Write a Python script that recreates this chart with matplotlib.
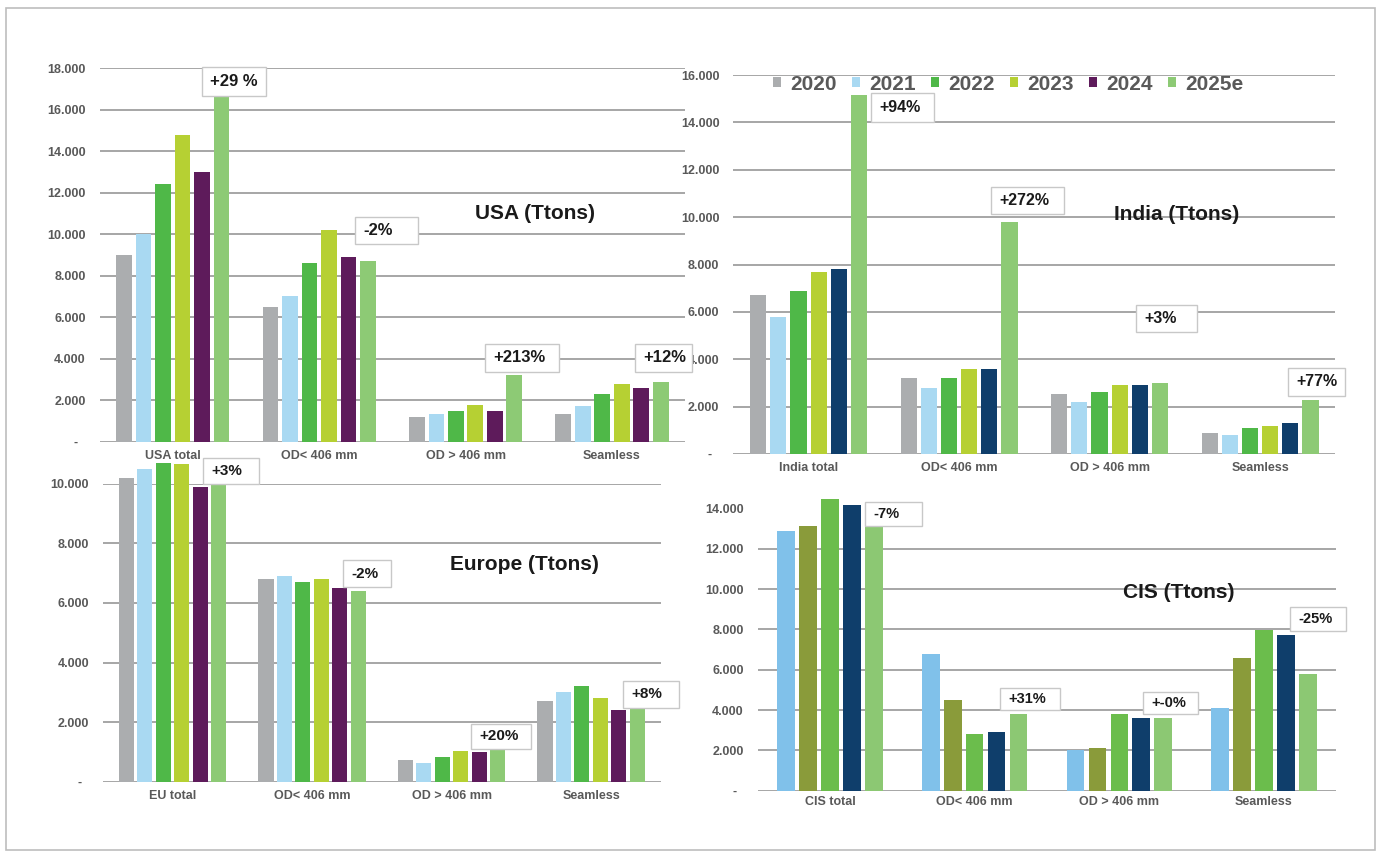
import matplotlib
matplotlib.use("Agg")
import matplotlib.pyplot as plt
from matplotlib.patches import Patch, Rectangle
import numpy as np

plt.rcParams['font.family'] = ['Liberation Sans', 'DejaVu Sans']
plt.rcParams['font.weight'] = 'bold'

W, H = 1381, 857

# ── data (Ttons) ──
years = ['2020', '2021', '2022', '2023', '2024', '2025e']
year_colors = ['#abadaf', '#a9d9f2', '#4fb848', '#b6d033', '#5e1b5b', '#8dca75']
india_colors = ['#abadaf', '#a9d9f2', '#4fb848', '#b6d033', '#0f3e6b', '#8dca75']
cis_colors = ['#80c1ea', '#8a9b3a', '#6bbd4c', '#0f3e6b', '#8cc873']

usa_categories = ['USA total', 'OD< 406 mm', 'OD > 406 mm', 'Seamless']
india_categories = ['India total', 'OD< 406 mm', 'OD > 406 mm', 'Seamless']
europe_categories = ['EU total', 'OD< 406 mm', 'OD > 406 mm', 'Seamless']
cis_categories = ['CIS total', 'OD< 406 mm', 'OD > 406 mm', 'Seamless']

# one row per year / series, one value per category
usa_values = [
    [9000, 6500, 1200, 1350],
    [10000, 7000, 1350, 1700],
    [12400, 8600, 1500, 2300],
    [14800, 10200, 1780, 2800],
    [13000, 8900, 1500, 2600],
    [16800, 8700, 3200, 2900],
]
india_values = [
    [6700, 3200, 2550, 900],
    [5800, 2800, 2200, 800],
    [6900, 3200, 2600, 1100],
    [7700, 3600, 2900, 1200],
    [7800, 3600, 2900, 1300],
    [15150, 9800, 3000, 2300],
]
europe_values = [
    [10200, 6800, 730, 2700],
    [10500, 6900, 620, 3000],
    [10700, 6700, 820, 3200],
    [10650, 6800, 1030, 2800],
    [9900, 6500, 1000, 2400],
    [10200, 6400, 1200, 2600],
]
cis_values = [
    [12900, 6800, 2000, 4100],
    [13150, 4500, 2100, 6600],
    [14450, 2800, 3800, 7950],
    [14150, 2900, 3600, 7700],
    [13150, 3800, 3600, 5800],
]

usa_changes = ['+29 %', '-2%', '+213%', '+12%']
india_changes = ['+94%', '+272%', '+3%', '+77%']
europe_changes = ['+3%', '-2%', '+20%', '+8%']
cis_changes = ['-7%', '+31%', '+-0%', '-25%']

# ── layout (pixels in the 1381x857 canvas) ──
usa_box = (99.5, 68.3, 685.2, 441.7)
india_box = (733.3, 75.0, 1335.3, 454.0)
europe_box = (102.8, 483.7, 660.8, 781.7)
cis_box = (757.7, 508.5, 1336.3, 790.7)

usa_notes = [(202, 67, 266, 96), (355, 217, 418, 244), (485, 344, 559, 372), (635, 344, 692, 372)]
india_notes = [(871, 93, 934, 122), (991, 187, 1064, 214), (1136, 305, 1197, 332), (1288, 368, 1345, 396)]
europe_notes = [(203, 458, 259, 484), (343, 560, 391, 587), (471, 724, 531, 749), (623, 681, 679, 708)]
cis_notes = [(865, 502, 922, 526), (1000, 688, 1060, 710), (1143, 692, 1198, 714), (1290, 607, 1346, 631)]

GRID = '#a6a6a6'
LABEL = '#595959'
DARK = '#1a1a1a'

fig = plt.figure(figsize=(W / 100, H / 100), dpi=100)
fig.patch.set_facecolor('white')


def px_rect(l, t, r, b):
    return [l / W, 1 - b / H, (r - l) / W, (b - t) / H]


def draw_chart(box, values, colors, cats, ymax, pitch, width, title, title_xy,
               changes, notes, note_size, xpad=6):
    ax = fig.add_axes(px_rect(*box))
    x = np.arange(len(cats))
    n = len(values)
    for i, (row, col) in enumerate(zip(values, colors)):
        ax.bar(x + (i - (n - 1) / 2) * pitch, row, width=width, color=col,
               zorder=3, clip_on=False)
    ax.set_xlim(-0.5, len(cats) - 0.5)
    ax.set_ylim(0, ymax)
    ticks = np.arange(0, ymax + 1, 2000)
    ax.set_yticks(ticks)
    ax.set_yticklabels(['-  ' if v == 0 else f'{v / 1000:.3f}' for v in ticks],
                       fontsize=9, color=LABEL)
    ax.set_xticks(x)
    ax.set_xticklabels(cats, fontsize=9, color=LABEL)
    ax.tick_params(axis='y', length=0, pad=10)
    ax.tick_params(axis='x', length=0, pad=xpad)
    ax.yaxis.grid(True, color=GRID, lw=1.4)
    ax.set_axisbelow(True)
    for s in ax.spines.values():
        s.set_visible(False)
    ax.patch.set_alpha(0)

    fig.text(title_xy[0] / W, 1 - title_xy[1] / H, title, fontsize=15,
             color=DARK, ha='center', va='center')

    for txt, (l, t, r, b) in zip(changes, notes):
        fig.add_artist(Rectangle((l / W, 1 - b / H), (r - l) / W, (b - t) / H,
                                 transform=fig.transFigure, facecolor='white',
                                 edgecolor='#c8c8c8', lw=1, zorder=5))
        fig.text((l + 8) / W, 1 - (t + b) / 2 / H, txt, fontsize=note_size,
                 color=DARK, ha='left', va='center', zorder=6)
    return ax


draw_chart(usa_box, usa_values, year_colors, usa_categories, 18000, 0.133, 0.107,
           'USA (Ttons)', (535, 213), usa_changes, usa_notes, 12)
ax_in = draw_chart(india_box, india_values, india_colors, india_categories, 16000,
                   0.134, 0.108, 'India (Ttons)', (1177, 215), india_changes,
                   india_notes, 11.5)
draw_chart(europe_box, europe_values, year_colors, europe_categories, 10000, 0.132,
           0.108, 'Europe (Ttons)', (524, 565), europe_changes, europe_notes, 11)
draw_chart(cis_box, cis_values, cis_colors, cis_categories, 14000, 0.152, 0.122,
           'CIS (Ttons)', (1179, 592), cis_changes, cis_notes, 10.5, xpad=4)

# legend sits on top of the India panel
handles = [Patch(facecolor=c, edgecolor='none', label=y) for y, c in zip(years, year_colors)]
leg = fig.legend(handles=handles, loc='center left',
                 bbox_to_anchor=(773 / W, 1 - 84 / H), ncol=6, frameon=False,
                 fontsize=15, handlelength=0.38, handleheight=0.36,
                 handletextpad=0.43, columnspacing=0.75, borderpad=0,
                 borderaxespad=0)
for t in leg.get_texts():
    t.set_color(LABEL)
    t.set_fontweight('bold')

# outer frame
fig.add_artist(Rectangle((5.5 / W, 1 - 850 / H), (1375 - 5.5) / W, (850 - 7.5) / H,
                         transform=fig.transFigure, facecolor='none',
                         edgecolor='#bdbdbd', lw=1.2, zorder=10))

plt.savefig('out.png', dpi=100)
